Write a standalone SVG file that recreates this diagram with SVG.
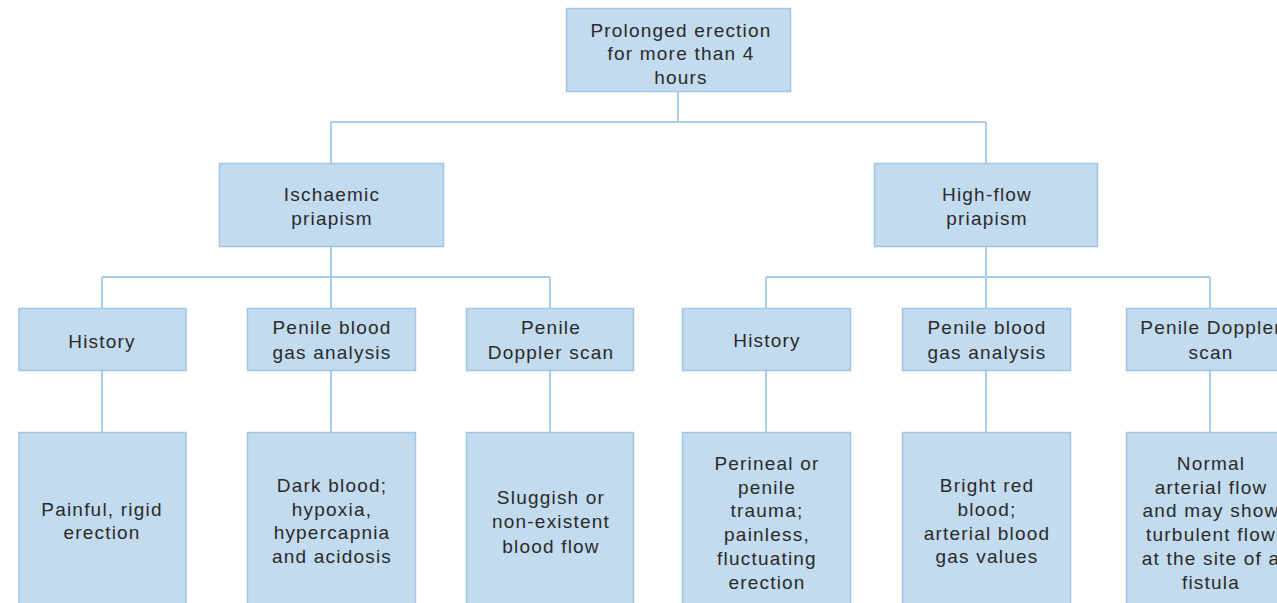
<svg xmlns="http://www.w3.org/2000/svg" width="1277" height="603" viewBox="0 0 1277 603">
<style>
.box{fill:#c2dbee;stroke:#9fc6e6;stroke-width:1.5}
.ln{stroke:#a9cdea;stroke-width:2;fill:none}
text{font-family:"Liberation Sans",Arial,sans-serif;font-size:19px;fill:#2a2a2a;text-anchor:middle;letter-spacing:1.2px}
</style>
<rect width="1277" height="603" fill="#fff"/>
<g id="connectors">
<path class="ln" d="M678 91V122M331 122H986M331 122V163M986 122V163"/>
<path class="ln" d="M331 246V277M102 277H550M102 277V308M331 277V308M550 277V308"/>
<path class="ln" d="M986 246V277M766 277H1210M766 277V308M986 277V308M1210 277V308"/>
<path class="ln" d="M102 370V432M331 370V432M550 370V432M766 370V432M986 370V432M1210 370V432"/>
</g>
<g id="n-top"><rect class="box" x="566.5" y="8.5" width="224" height="83"/>
<text x="681" y="37">Prolonged erection</text><text x="681" y="60">for more than 4</text><text x="681" y="84">hours</text></g>
<g id="n-isch"><rect class="box" x="219.5" y="163.5" width="224" height="83"/>
<text x="332" y="201">Ischaemic</text><text x="332" y="225">priapism</text></g>
<g id="n-high"><rect class="box" x="874.5" y="163.5" width="223" height="83"/>
<text x="987" y="201">High-flow</text><text x="987" y="225">priapism</text></g>
<g id="n-hist1"><rect class="box" x="19" y="308.5" width="167" height="62"/>
<text x="102" y="348">History</text></g>
<g id="n-gas1"><rect class="box" x="247.5" y="308.5" width="168" height="62"/>
<text x="332" y="334">Penile blood</text><text x="332" y="359">gas analysis</text></g>
<g id="n-dop1"><rect class="box" x="466.5" y="308.5" width="167" height="62"/>
<text x="551" y="334">Penile</text><text x="551" y="359">Doppler scan</text></g>
<g id="n-hist2"><rect class="box" x="682.5" y="308.5" width="168" height="62"/>
<text x="767" y="347">History</text></g>
<g id="n-gas2"><rect class="box" x="902.5" y="308.5" width="168" height="62"/>
<text x="987" y="334">Penile blood</text><text x="987" y="359">gas analysis</text></g>
<g id="n-dop2"><rect class="box" x="1126.5" y="308.5" width="168" height="62"/>
<text x="1211" y="334">Penile Doppler</text><text x="1211" y="359">scan</text></g>
<g id="n-r1"><rect class="box" x="19" y="432.5" width="167" height="180"/>
<text x="102" y="516">Painful, rigid</text><text x="102" y="539">erection</text></g>
<g id="n-r2"><rect class="box" x="247.5" y="432.5" width="168" height="180"/>
<text x="332" y="492">Dark blood;</text><text x="332" y="516">hypoxia,</text><text x="332" y="539">hypercapnia</text><text x="332" y="563">and acidosis</text></g>
<g id="n-r3"><rect class="box" x="466.5" y="432.5" width="167" height="180"/>
<text x="551" y="504">Sluggish or</text><text x="551" y="528">non-existent</text><text x="551" y="553">blood flow</text></g>
<g id="n-r4"><rect class="box" x="682.5" y="432.5" width="168" height="180"/>
<text x="767" y="470">Perineal or</text><text x="767" y="494">penile</text><text x="767" y="517">trauma;</text><text x="767" y="541">painless,</text><text x="767" y="565">fluctuating</text><text x="767" y="589">erection</text></g>
<g id="n-r5"><rect class="box" x="902.5" y="432.5" width="168" height="180"/>
<text x="987" y="492">Bright red</text><text x="987" y="516">blood;</text><text x="987" y="540">arterial blood</text><text x="987" y="563">gas values</text></g>
<g id="n-r6"><rect class="box" x="1126.5" y="432.5" width="168" height="180"/>
<text x="1211" y="470">Normal</text><text x="1211" y="494">arterial flow</text><text x="1211" y="517">and may show</text><text x="1211" y="541">turbulent flow</text><text x="1211" y="565">at the site of a</text><text x="1211" y="589">fistula</text></g>
</svg>
